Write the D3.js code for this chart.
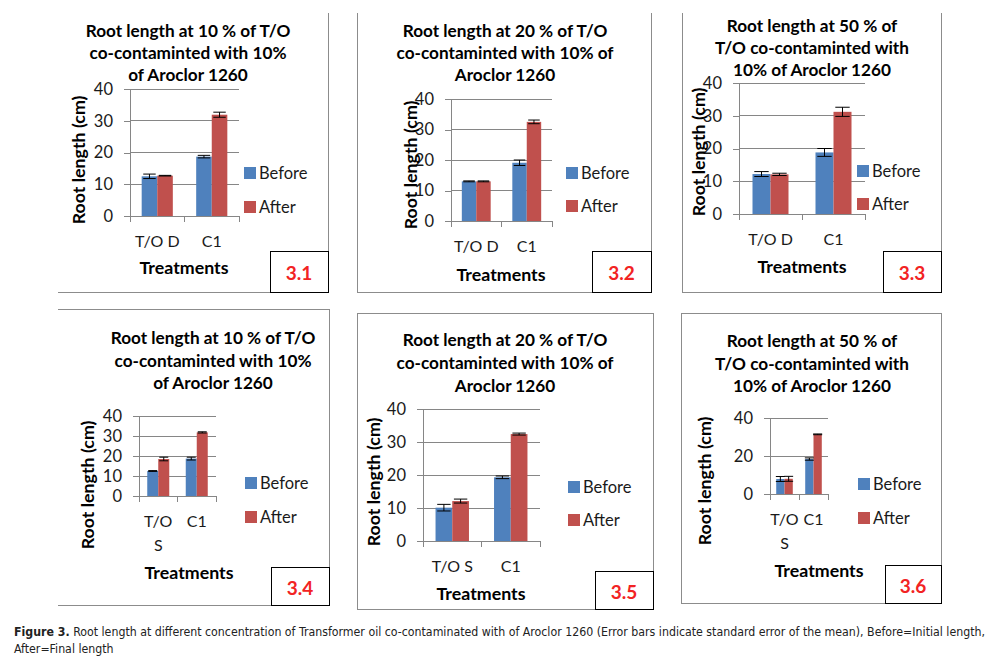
<!DOCTYPE html>
<html><head><meta charset="utf-8">
<script src="https://cdn.jsdelivr.net/npm/d3@7"></script>
<style>body{margin:0;background:#fff} svg{display:block}</style>
</head><body>
<svg id="c" width="993" height="662"></svg>
<script>
// ---------------- DATA ----------------
const panelLabels = ["3.1", "3.2", "3.3", "3.4", "3.5", "3.6"];
const titleLines = [
  ["Root length at 10 % of T/O", "co-contaminted with 10%", "of Aroclor 1260"],
  ["Root length at 20 % of T/O", "co-contaminted with 10% of", "Aroclor 1260"],
  ["Root length at 50 % of", "T/O co-contaminted with", "10% of Aroclor 1260"],
  ["Root length at 10 % of T/O", "co-contaminted with 10%", "of Aroclor 1260"],
  ["Root length at 20  % of T/O", "co-contaminted with 10% of", "Aroclor 1260"],
  ["Root length at 50 % of", "T/O co-contaminted with", "10% of Aroclor 1260"]
];
const categoriesD = ["T/O D", "C1"];
const categoriesS = ["T/O S", "C1"];
const seriesNames = ["Before", "After"];
const beforeValues = [[12.5, 18.7], [13.0, 19.1], [12.2, 18.8], [12.5, 18.7], [10.1, 19.3], [7.9, 18.4]];
const afterValues  = [[12.7, 31.9], [13.0, 32.5], [12.1, 31.2], [18.5, 31.8], [12.1, 32.4], [8.0, 31.4]];
const beforeErrors = [[0.7, 0.4], [0.15, 0.9], [0.75, 1.2], [0.2, 0.7], [1.0, 0.4], [1.3, 0.6]];
const afterErrors  = [[0.1, 0.8], [0.15, 0.6], [0.35, 1.4], [0.9, 0.3], [0.6, 0.3], [1.3, 0.2]];
const yTicksA = [0, 10, 20, 30, 40];
const yTicksB = [0, 20, 40];
const yAxisTitle = "Root length (cm)";
const xAxisTitle = "Treatments";
const captionBold = "Figure 3.";
const captionLine1 = " Root length at different concentration of Transformer oil co-contaminated with of Aroclor 1260 (Error bars indicate standard error of the mean), Before=Initial length,";
const captionLine2 = "After=Final length";

// ---------------- LAYOUT ----------------
const layouts = [
  {frame:[58,328,13,292], sides:"rb",  plot:[130,239,89,216],  tx:188, ty:[30,52,74],    yt:[78,160],  treat:[184,267], leg:[244,173,207], box:[270,328,251,292], wrap:false},
  {frame:[357,651,13,292], sides:"lrb", plot:[451,552,99,221], tx:505, ty:[30,52,74],    yt:[410,165], treat:[501,274], leg:[566,173,206], box:[592,651,251,292], wrap:false},
  {frame:[682,941,13,292], sides:"lrb", plot:[739,865,83,214], tx:812, ty:[25,47,69],    yt:[698,152], treat:[802,266], leg:[857,171,204], box:[883,941,251,292], wrap:false},
  {frame:[58,329,309,605], sides:"trb", plot:[139,216,416,496], tx:213, ty:[337,360,382], yt:[87,485],  treat:[189,572], leg:[245,483,517], box:[271,329,567,605], wrap:true},
  {frame:[357,653,313,609], sides:"ltrb", plot:[423,540,409,541], tx:505, ty:[339,362,385], yt:[373,482], treat:[481,593], leg:[568,487,520], box:[595,653,571,609], wrap:false},
  {frame:[681,941,313,603], sides:"ltrb", plot:[770,828,418,494], tx:812, ty:[340,363,385], yt:[704,481], treat:[819,570], leg:[858,484,518], box:[885,941,565,603], wrap:true}
];
const colors = {Before:"#4F81BD", After:"#C0504D"};
const FONT = "Lato, 'Open Sans', sans-serif";
const GRID = "#868686";
const TITLE_SIZE = 17.2;
const BOLD_SIZE = 17.8;

const svg = d3.select("#c");
svg.append("rect").attr("width",993).attr("height",662).attr("fill","#fff");

function line(g, x1, y1, x2, y2, stroke, sw) {
  g.append("line").attr("x1",x1).attr("y1",y1).attr("x2",x2).attr("y2",y2)
    .attr("stroke",stroke).attr("stroke-width",sw||1).attr("shape-rendering","crispEdges");
}

layouts.forEach((L, i) => {
  const g = svg.append("g");
  const [fx0, fx1, fy0, fy1] = L.frame;
  if (L.sides.includes("l")) line(g, fx0, fy0, fx0, fy1, "#8c8c8c");
  if (L.sides.includes("r")) line(g, fx1, fy0, fx1, fy1, "#8c8c8c");
  if (L.sides.includes("t")) line(g, fx0, fy0, fx1, fy0, "#8c8c8c");
  if (L.sides.includes("b")) line(g, fx0, fy1, fx1, fy1, "#8c8c8c");

  const [pl, pr, pt, pb] = L.plot;
  const cats = i < 3 ? categoriesD : categoriesS;
  const ticks = i === 5 ? yTicksB : yTicksA;
  const y = d3.scaleLinear().domain([0, 40]).range([pb, pt]);
  const x0 = d3.scaleBand().domain(cats).range([pl, pr]).padding(0);
  const s = x0.bandwidth();
  const w = s / 3.5;
  const x1 = d3.scaleBand().domain(seriesNames).range([0.75 * w, s - 0.75 * w]).padding(0);

  // gridlines
  ticks.filter(t => t > 0).forEach(t => line(g, pl, y(t), pr, y(t), GRID));

  // y axis with ticks + labels
  const ay = g.append("g").attr("transform", `translate(${pl},0)`)
    .call(d3.axisLeft(y).tickValues(ticks).tickSize(6).tickPadding(11).tickSizeOuter(0));
  ay.select(".domain").remove();
  ay.selectAll(".tick line").attr("stroke", GRID).attr("shape-rendering","crispEdges");
  ay.selectAll(".tick text").attr("font-family", FONT).attr("font-size", 16.5).attr("fill", "#1a1a1a");
  line(g, pl, pt, pl, pb + 6, GRID);

  // x axis baseline + boundary ticks
  line(g, pl, pb, pr, pb, GRID);
  cats.forEach(c => line(g, x0(c), pb, x0(c), pb + 6, GRID));
  line(g, pr, pb, pr, pb + 6, GRID);

  const ax = g.append("g").attr("transform", `translate(0,${pb})`)
    .call(d3.axisBottom(x0).tickSize(0).tickPadding(20));
  ax.select(".domain").remove();
  ax.selectAll(".tick text").attr("font-family", FONT).attr("font-size", 16).attr("fill", "#1a1a1a")
    .each(function(d) {
      if (!L.wrap) return;
      const parts = d.split(" ");
      if (parts.length < 2) return;
      const t = d3.select(this);
      t.text(null);
      parts.forEach((p, k) => t.append("tspan").attr("x", 0).attr("dy", k === 0 ? "0.71em" : "1.45em").text(p));
      t.attr("dy", null);
    });

  // bars
  const rows = cats.map((c, j) => ({
    c,
    vals: [
      {s: "Before", v: beforeValues[i][j], e: beforeErrors[i][j]},
      {s: "After",  v: afterValues[i][j],  e: afterErrors[i][j]}
    ]
  }));
  const grp = g.selectAll(".cat").data(rows).enter().append("g")
    .attr("transform", d => `translate(${x0(d.c)},0)`);
  grp.selectAll("rect").data(d => d.vals).enter().append("rect")
    .attr("x", d => x1(d.s)).attr("width", x1.bandwidth())
    .attr("y", d => y(d.v)).attr("height", d => y(0) - y(d.v))
    .attr("fill", d => colors[d.s]);
  const capHalf = Math.max(4.5, w * 0.4);
  grp.selectAll(".err").data(d => d.vals).enter().append("g").each(function(d) {
    const e = d3.select(this);
    const cx = x1(d.s) + x1.bandwidth() / 2;
    const yt = y(d.v + d.e), yb = y(d.v - d.e);
    e.append("line").attr("x1", cx).attr("x2", cx).attr("y1", yt).attr("y2", yb).attr("stroke", "#000");
    e.append("line").attr("x1", cx - capHalf).attr("x2", cx + capHalf).attr("y1", yt).attr("y2", yt).attr("stroke", "#000");
    e.append("line").attr("x1", cx - capHalf).attr("x2", cx + capHalf).attr("y1", yb).attr("y2", yb).attr("stroke", "#000");
  });

  // legend
  const [lx, ly1, ly2] = L.leg;
  [[seriesNames[0], ly1], [seriesNames[1], ly2]].forEach(([nm, ly]) => {
    g.append("rect").attr("x", lx).attr("y", ly - 6).attr("width", 12).attr("height", 12).attr("fill", colors[nm]);
    g.append("text").attr("x", lx + 15).attr("y", ly).attr("dominant-baseline", "central")
      .attr("font-family", FONT).attr("font-size", 16.5).attr("fill", "#1a1a1a").text(nm);
  });

  // title
  titleLines[i].forEach((t, k) => {
    g.append("text").attr("x", L.tx).attr("y", L.ty[k]).attr("text-anchor", "middle")
      .attr("dominant-baseline", "central").attr("font-family", FONT).attr("font-weight", "bold")
      .attr("font-size", TITLE_SIZE).attr("fill", "#000").text(t);
  });

  // y title
  g.append("text").attr("transform", `translate(${L.yt[0]},${L.yt[1]}) rotate(-90)`)
    .attr("text-anchor", "middle").attr("dominant-baseline", "central")
    .attr("font-family", FONT).attr("font-weight", "bold").attr("font-size", BOLD_SIZE).attr("fill", "#000")
    .text(yAxisTitle);

  // x title
  g.append("text").attr("x", L.treat[0]).attr("y", L.treat[1]).attr("text-anchor", "middle")
    .attr("dominant-baseline", "central").attr("font-family", FONT).attr("font-weight", "bold")
    .attr("font-size", BOLD_SIZE).attr("fill", "#000").text(xAxisTitle);

  // label box
  const [bx0, bx1, by0, by1] = L.box;
  g.append("rect").attr("x", bx0).attr("y", by0).attr("width", bx1 - bx0).attr("height", by1 - by0)
    .attr("fill", "#fff").attr("stroke", "#000").attr("stroke-width", 1).attr("shape-rendering","crispEdges");
  g.append("text").attr("x", (bx0 + bx1) / 2).attr("y", (by0 + by1) / 2 + 1).attr("text-anchor", "middle")
    .attr("dominant-baseline", "central").attr("font-family", FONT).attr("font-weight", "bold")
    .attr("font-size", 19).attr("fill", "#F22323").text(panelLabels[i]);
});

// caption: fit line 1 to its width by adjusting font size
const CAP = "'Liberation Sans Narrow', 'DejaVu Sans Condensed', 'Liberation Sans', sans-serif";
const c1 = svg.append("text").attr("x", 14).attr("y", 636).attr("font-family", CAP).attr("font-size", 13)
  .attr("fill", "#222");
c1.append("tspan").attr("font-weight", "bold").text(captionBold);
c1.append("tspan").text(captionLine1);
const natural = c1.node().getComputedTextLength();
const capSize = Math.min(13.5, 13 * 972 / natural);
c1.attr("font-size", capSize);
svg.append("text").attr("x", 14).attr("y", 653).attr("font-family", CAP).attr("font-size", capSize)
  .attr("fill", "#222").text(captionLine2);
</script>
</body></html>
